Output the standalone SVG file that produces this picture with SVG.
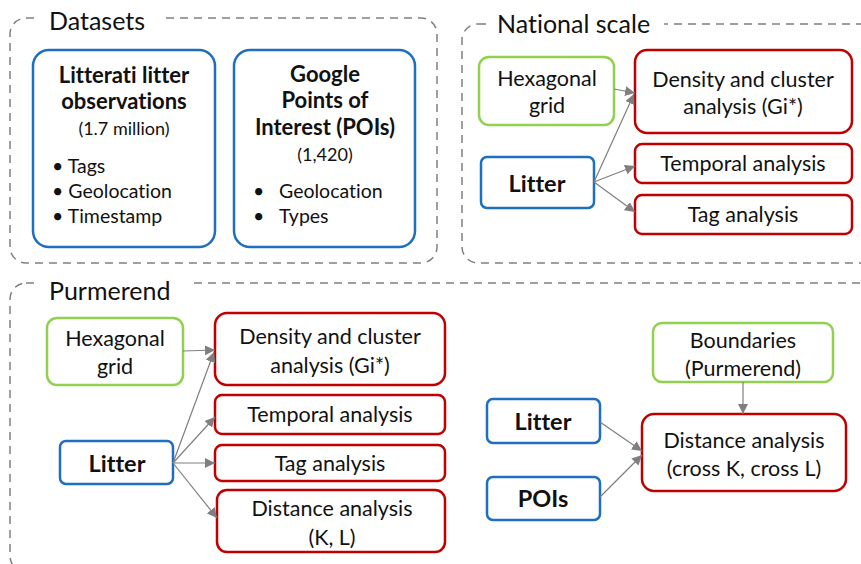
<svg xmlns="http://www.w3.org/2000/svg" width="861" height="564" viewBox="0 0 861 564">
<defs>
<style>
text{font-family:Lato,"Open Sans","Liberation Sans",sans-serif;fill:#111;text-anchor:middle;dominant-baseline:central;font-variant-ligatures:none}
.cont{fill:none;stroke:#808080;stroke-width:1.5;stroke-dasharray:8 6}
.title{font-size:25px;text-anchor:start}
.blue{fill:#fff;stroke:#1f6fbf;stroke-width:2.5}
.green{fill:#fff;stroke:#92d050;stroke-width:2.5}
.red{fill:#fff;stroke:#c00000;stroke-width:2.5}
.t{font-size:21.5px}
.b{font-size:23.5px;font-weight:bold}
.bh{font-size:22px;font-weight:bold}
.s{font-size:18px}
.l{font-size:19.5px;text-anchor:start}
.con line{stroke:#7f7f7f;stroke-width:1.2;marker-end:url(#ah)}
.mask{fill:#fff}
</style>
<marker id="ah" viewBox="0 0 10 10" refX="10" refY="5" markerWidth="10" markerHeight="10" markerUnits="userSpaceOnUse" orient="auto">
<path d="M0,0 L10,5 L0,10 z" fill="#7f7f7f"/>
</marker>
</defs>
<rect width="861" height="564" fill="#fff"/>

<g id="datasets">
<rect class="cont" x="10" y="18" width="427" height="245" rx="16"/>
<rect class="mask" x="36" y="6" width="124" height="26"/>
<text class="title" x="49" y="20">Datasets</text>
</g>
<g id="national">
<rect class="cont" x="462" y="24" width="420" height="239" rx="16"/>
<rect class="mask" x="486" y="10" width="178" height="26"/>
<text class="title" x="497" y="23">National scale</text>
</g>
<g id="purmerend">
<rect class="cont" x="10" y="283" width="872" height="289" rx="16"/>
<rect class="mask" x="36" y="270" width="156" height="26"/>
<text class="title" x="49" y="290">Purmerend</text>
</g>

<g id="litterati">
<rect class="blue" x="33" y="50" width="182" height="197" rx="16"/>
<text class="bh" x="124" y="74">Litterati litter</text>
<text class="bh" x="124" y="100">observations</text>
<text class="s" x="124" y="128">(1.7 million)</text>
<text class="l" x="52" y="165">• Tags</text>
<text class="l" x="52" y="190">• Geolocation</text>
<text class="l" x="52" y="215">• Timestamp</text>
</g>
<g id="google">
<rect class="blue" x="234" y="50" width="181" height="197" rx="16"/>
<text class="bh" x="325" y="73">Google</text>
<text class="bh" x="325" y="99">Points of</text>
<text class="bh" x="325" y="126">Interest (POIs)</text>
<text class="s" x="325" y="154">(1,420)</text>
<text class="l" x="253" y="190">•</text>
<text class="l" x="279" y="190">Geolocation</text>
<text class="l" x="253" y="215">•</text>
<text class="l" x="279" y="215">Types</text>
</g>

<g id="n_hex">
<rect class="green" x="479" y="57" width="135" height="68" rx="10"/>
<text class="t" x="547" y="78">Hexagonal</text>
<text class="t" x="547" y="105">grid</text>
</g>
<g id="n_litter">
<rect class="blue" x="481" y="157" width="113" height="51" rx="6"/>
<text class="b" x="537" y="183">Litter</text>
</g>
<g id="n_density">
<rect class="red" x="635" y="50" width="217" height="83" rx="12"/>
<text class="t" x="743" y="79">Density and cluster</text>
<text class="t" x="743" y="106">analysis (Gi*)</text>
</g>
<g id="n_temporal">
<rect class="red" x="635" y="144" width="217" height="39" rx="7"/>
<text class="t" x="743" y="163">Temporal analysis</text>
</g>
<g id="n_tag">
<rect class="red" x="635" y="195" width="217" height="39" rx="7"/>
<text class="t" x="743" y="214">Tag analysis</text>
</g>

<g id="p_hex">
<rect class="green" x="47" y="318" width="136" height="67" rx="10"/>
<text class="t" x="115" y="338">Hexagonal</text>
<text class="t" x="115" y="366">grid</text>
</g>
<g id="p_litter">
<rect class="blue" x="60" y="441" width="113" height="43" rx="6"/>
<text class="b" x="117" y="463">Litter</text>
</g>
<g id="p_density">
<rect class="red" x="215" y="313" width="230" height="72" rx="12"/>
<text class="t" x="330" y="336">Density and cluster</text>
<text class="t" x="330" y="365">analysis (Gi*)</text>
</g>
<g id="p_temporal">
<rect class="red" x="215" y="395" width="230" height="39" rx="7"/>
<text class="t" x="330" y="414">Temporal analysis</text>
</g>
<g id="p_tag">
<rect class="red" x="215" y="445" width="230" height="36" rx="7"/>
<text class="t" x="330" y="463">Tag analysis</text>
</g>
<g id="p_distance">
<rect class="red" x="217" y="490" width="228" height="62" rx="10"/>
<text class="t" x="332" y="508">Distance analysis</text>
<text class="t" x="332" y="537">(K, L)</text>
</g>

<g id="p_boundaries">
<rect class="green" x="653" y="323" width="180" height="59" rx="9"/>
<text class="t" x="743" y="340">Boundaries</text>
<text class="t" x="743" y="368">(Purmerend)</text>
</g>
<g id="p_litter2">
<rect class="blue" x="487" y="399" width="113" height="44" rx="6"/>
<text class="b" x="543" y="421">Litter</text>
</g>
<g id="p_pois">
<rect class="blue" x="487" y="477" width="113" height="43" rx="6"/>
<text class="b" x="543" y="498">POIs</text>
</g>
<g id="p_crossdist">
<rect class="red" x="642" y="414" width="204" height="77" rx="12"/>
<text class="t" x="744" y="440">Distance analysis</text>
<text class="t" x="744" y="468">(cross K, cross L)</text>
</g>

<g id="connectors" class="con">
<line x1="614" y1="89" x2="635" y2="93"/>
<line x1="594" y1="182" x2="634" y2="94"/>
<line x1="594" y1="182" x2="635" y2="166"/>
<line x1="594" y1="182" x2="635" y2="212"/>
<line x1="183" y1="351" x2="215" y2="350"/>
<line x1="173" y1="463" x2="214" y2="352"/>
<line x1="173" y1="463" x2="215" y2="417"/>
<line x1="173" y1="463" x2="215" y2="463"/>
<line x1="173" y1="463" x2="217" y2="518"/>
<line x1="743" y1="382" x2="743" y2="414"/>
<line x1="600" y1="422" x2="642" y2="451"/>
<line x1="600" y1="497" x2="642" y2="455"/>
</g>
</svg>
